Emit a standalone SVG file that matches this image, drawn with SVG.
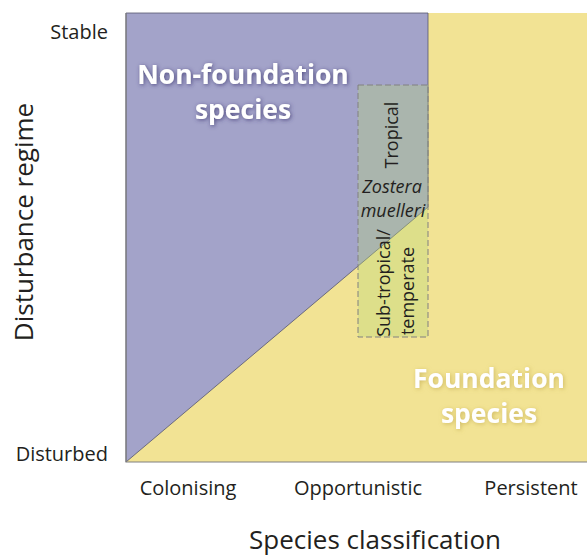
<svg xmlns="http://www.w3.org/2000/svg" width="587" height="558" viewBox="0 0 587 558">
<defs>
<style>
text{font-family:"Open Sans","Noto Sans","Liberation Sans",sans-serif;fill:#231f20}
.tick{font-size:20px}
.axis{font-size:26px}
.big{font-size:26.5px;font-weight:bold;fill:#fff}
.small{font-size:18px}
</style>
<filter id="sh" x="-20%" y="-40%" width="140%" height="180%">
<feGaussianBlur in="SourceAlpha" stdDeviation="2"/>
<feOffset dx="1" dy="1" result="b"/>
<feFlood flood-color="#3a3470" flood-opacity="0.8"/>
<feComposite operator="in" in2="b"/>
<feMerge><feMergeNode/><feMergeNode in="SourceGraphic"/></feMerge>
</filter>
<filter id="shy" x="-20%" y="-40%" width="140%" height="180%">
<feGaussianBlur in="SourceAlpha" stdDeviation="2"/>
<feOffset dx="1" dy="1" result="b"/>
<feFlood flood-color="#b8a040" flood-opacity="0.6"/>
<feComposite operator="in" in2="b"/>
<feMerge><feMergeNode/><feMergeNode in="SourceGraphic"/></feMerge>
</filter>
</defs>
<rect width="587" height="558" fill="#fff"/>
<g id="foundation-region">
<rect x="126" y="13" width="461" height="449" fill="#f2e394"/>
</g>
<g id="nonfoundation-region">
<polygon points="126,13 428,13 428,207 126,462" fill="#a3a3c9" stroke="#55556e" stroke-width="0.8"/>
</g>
<g id="zostera-box">
<rect x="358" y="85" width="70" height="252" fill="#b7d677" fill-opacity="0.35" stroke="#808080" stroke-width="1" stroke-dasharray="6,3"/>
<text class="small" transform="translate(398,135) rotate(-90)" text-anchor="middle">Tropical</text>
<text class="small" x="392" y="193" text-anchor="middle" font-style="italic">Zostera</text>
<text class="small" x="393" y="217" text-anchor="middle" font-style="italic">muelleri</text>
<text class="small" transform="translate(390,283) rotate(-90)" text-anchor="middle">Sub-tropical/</text>
<text class="small" transform="translate(414,291) rotate(-90)" text-anchor="middle">temperate</text>
</g>
<g id="frame">
<polyline points="126,13 126,462 587,462" fill="none" stroke="#808080" stroke-width="1.2"/>
</g>
<g id="labels">
<text class="big" x="243" y="84" text-anchor="middle" filter="url(#sh)">Non-foundation</text>
<text class="big" x="243" y="119" text-anchor="middle" filter="url(#sh)">species</text>
<text class="big" x="489" y="388" text-anchor="middle" filter="url(#shy)">Foundation</text>
<text class="big" x="489" y="423" text-anchor="middle" filter="url(#shy)">species</text>
<text class="tick" x="108" y="39" text-anchor="end">Stable</text>
<text class="tick" x="108" y="461" text-anchor="end">Disturbed</text>
<text class="axis" transform="translate(33,222) rotate(-90)" text-anchor="middle">Disturbance regime</text>
<text class="tick" x="188" y="495" text-anchor="middle">Colonising</text>
<text class="tick" x="358" y="495" text-anchor="middle">Opportunistic</text>
<text class="tick" x="531" y="495" text-anchor="middle">Persistent</text>
<text class="axis" x="375" y="549" text-anchor="middle">Species classification</text>
</g>
</svg>
